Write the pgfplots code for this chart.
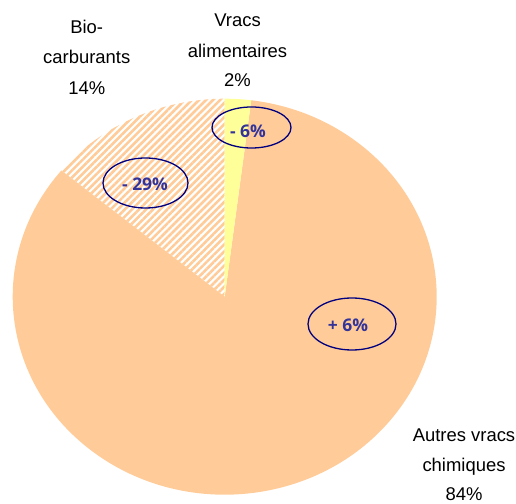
\documentclass[border=0pt]{standalone}
\usepackage{fontspec}
\setmainfont{Liberation Sans}
\newfontfamily\lblfont{Open Sans}
\usepackage{pgfplots}
\pgfplotsset{compat=1.18}
\usetikzlibrary{patterns.meta}

\definecolor{sliceorange}{HTML}{FFCC99}
\definecolor{sliceyellow}{HTML}{FFFF99}
\definecolor{ringblue}{HTML}{000080}
\definecolor{deltablue}{HTML}{333399}

% shares (%)
\def\vBio{14}
\def\vAutres{84}
\def\vVracs{2}

\pgfmathsetmacro\aA{90}
\pgfmathsetmacro\aB{\aA+3.6*\vBio}
\pgfmathsetmacro\aC{\aB+3.6*\vAutres}
\pgfmathsetmacro\aD{\aC+3.6*\vVracs}

\tikzset{
  outlbl/.style={anchor=base, font=\fontsize{18.5}{22}\selectfont, text=black},
  delta/.style={font=\lblfont\bfseries\fontsize{17.5}{20}\selectfont, text=deltablue},
  ring/.style={draw=ringblue, line width=1.3bp},
}

\begin{document}
\begin{tikzpicture}
\begin{axis}[
    scale only axis,
    width=516bp, height=504bp,
    xmin=0, xmax=516, ymin=0, ymax=504,
    hide axis,
    clip=false,
]
% pie (centre at 224.7,207.3)
\fill[pattern={Lines[angle=45, distance=5bp, line width=2.6bp]}, pattern color=sliceorange]
  (axis cs:224.7,207.3) -- ++(\aA:212bp and 198bp)
  arc[start angle=\aA, end angle=\aB, x radius=212bp, y radius=198bp] -- cycle;
\fill[sliceorange]
  (axis cs:224.7,207.3) -- ++(\aB:212bp and 198bp)
  arc[start angle=\aB, end angle=\aC, x radius=212bp, y radius=198bp] -- cycle;
\fill[sliceyellow]
  (axis cs:224.7,207.3) -- ++(\aC:212bp and 198bp)
  arc[start angle=\aC, end angle=\aD, x radius=212bp, y radius=198bp] -- cycle;

% change rings
\draw[ring] (axis cs:251.5,376.5) ellipse[x radius=39.5bp, y radius=20.5bp];
\node[delta] at (axis cs:248,373) {- 6\%};
\draw[ring] (axis cs:145.5,321) ellipse[x radius=42.5bp, y radius=25bp];
\node[delta] at (axis cs:145,320) {- 29\%};
\draw[ring] (axis cs:352,180) ellipse[x radius=44bp, y radius=26bp];
\node[delta] at (axis cs:348,179) {+ 6\%};

% category labels
\node[outlbl] at (axis cs:86.7,470) {Bio-};
\node[outlbl] at (axis cs:86.7,440) {carburants};
\node[outlbl] at (axis cs:86.7,409) {14\%};
\node[outlbl] at (axis cs:237.5,477) {Vracs};
\node[outlbl] at (axis cs:237.5,446) {alimentaires};
\node[outlbl] at (axis cs:237.5,417) {2\%};
\node[outlbl] at (axis cs:464,62) {Autres vracs};
\node[outlbl] at (axis cs:464,32) {chimiques};
\node[outlbl] at (axis cs:464,4) {84\%};
\end{axis}
\pgfresetboundingbox
\path[use as bounding box] (0,0) rectangle (516bp,504bp);
\end{tikzpicture}
\end{document}
